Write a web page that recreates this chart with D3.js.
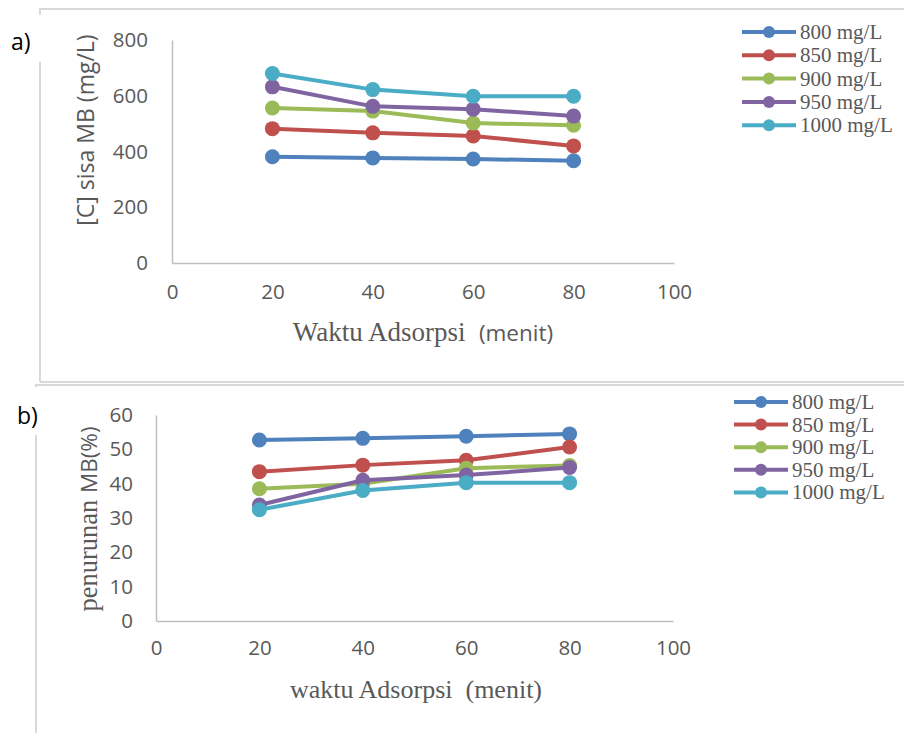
<!DOCTYPE html>
<html>
<head>
<meta charset="utf-8">
<script src="https://cdn.jsdelivr.net/npm/d3@7"></script>
<style>
  html, body { margin: 0; padding: 0; background: #fff; }
  svg { display: block; }
</style>
</head>
<body>
<svg id="chart" width="904" height="733"></svg>
<script>
// ---------- DATA ----------
const times = [20, 40, 60, 80];
const seriesNames = ["800 mg/L", "850 mg/L", "900 mg/L", "950 mg/L", "1000 mg/L"];
const seriesColors = ["#4F81BD", "#C0504D", "#9BBB59", "#8064A2", "#4BACC6"];

// a) [C] sisa MB (mg/L)
const sisa800  = [381, 377, 373, 367];
const sisa850  = [482, 467, 456, 420];
const sisa900  = [556, 545, 502, 494];
const sisa950  = [632, 562, 552, 527];
const sisa1000 = [680, 622, 598, 598];

// b) penurunan MB (%)
const turun800  = [52.7, 53.2, 53.8, 54.5];
const turun850  = [43.5, 45.4, 46.8, 50.7];
const turun900  = [38.5, 40.0, 44.5, 45.3];
const turun950  = [33.8, 41.0, 42.5, 44.7];
const turun1000 = [32.4, 38.0, 40.3, 40.3];

const xTicks = [0, 20, 40, 60, 80, 100];
const yTicksA = [0, 200, 400, 600, 800];
const yTicksB = [0, 10, 20, 30, 40, 50, 60];

// ---------- DRAW ----------
const svg = d3.select("#chart");
const SANS = "'Open Sans', 'Liberation Sans', sans-serif";
const SERIF = "'Liberation Serif', 'DejaVu Serif', serif";
const TXT = "#595959";
const FRAME = "#D9D9D9";
const AXIS = "#BFBFBF";

// Outer frames
const frames = svg.append("g").attr("stroke", FRAME).attr("stroke-width", 2).attr("fill", "none");
frames.append("path").attr("d", "M40,382 V9 H904");
frames.append("path").attr("d", "M40,382 H904");
frames.append("path").attr("d", "M36,733 V385 H904");

// Panel labels with white backing
function panelLabel(txt, x, y, bx, by, bw, bh) {
  svg.append("rect").attr("x", bx).attr("y", by).attr("width", bw).attr("height", bh).attr("fill", "#fff");
  svg.append("text").attr("x", x).attr("y", y).text(txt)
    .attr("font-family", SANS).attr("font-size", 23).attr("fill", "#000");
}
panelLabel("a)", 11, 50, 0, 15, 60, 47);
panelLabel("b)", 17, 424, 0, 387, 64, 48);

function drawPanel(cfg) {
  const g = svg.append("g");
  const x = d3.scaleLinear().domain([0, 100]).range([cfg.x0, cfg.x1]);
  const y = d3.scaleLinear().domain(cfg.yDomain).range([cfg.yBottom, cfg.yTop]);

  // axes
  const yAx = g.append("g").attr("transform", `translate(${cfg.x0},0)`)
    .call(d3.axisLeft(y).tickValues(cfg.yTicks).tickSize(0).tickPadding(cfg.yPad));
  const xAx = g.append("g").attr("transform", `translate(0,${cfg.yBottom})`)
    .call(d3.axisBottom(x).tickValues(xTicks).tickSize(0).tickPadding(cfg.xPad));
  [yAx, xAx].forEach(a => {
    a.select(".domain").attr("stroke", AXIS).attr("stroke-width", 1.5);
    a.selectAll("text").attr("font-family", SANS).attr("font-size", 20.5).attr("fill", TXT);
  });

  // lines & markers
  const line = d3.line().x((d, i) => x(times[i])).y(d => y(d));
  cfg.series.forEach((vals, si) => {
    const sg = g.append("g");
    sg.append("path").datum(vals).attr("d", line)
      .attr("fill", "none").attr("stroke", seriesColors[si]).attr("stroke-width", 4)
      .attr("stroke-linejoin", "round");
    sg.selectAll("circle").data(vals).join("circle")
      .attr("cx", (d, i) => x(times[i])).attr("cy", d => y(d)).attr("r", 7.5)
      .attr("fill", seriesColors[si]);
  });

  // legend
  const lg = g.append("g");
  seriesNames.forEach((name, i) => {
    const ly = cfg.legY + i * cfg.legStep;
    lg.append("line").attr("x1", cfg.legX).attr("x2", cfg.legX + 54).attr("y1", ly).attr("y2", ly)
      .attr("stroke", seriesColors[i]).attr("stroke-width", 4);
    lg.append("circle").attr("cx", cfg.legX + 27).attr("cy", ly).attr("r", 6).attr("fill", seriesColors[i]);
    lg.append("text").attr("x", cfg.legX + 58).attr("y", ly).attr("dy", "0.33em").text(name)
      .attr("font-family", SERIF).attr("font-size", 21).attr("fill", TXT);
  });
  return { g, x, y };
}

const pA = drawPanel({
  x0: 172, x1: 674, yTop: 40, yBottom: 263, yDomain: [0, 800], yTicks: yTicksA,
  yPad: 24, xPad: 21,
  series: [sisa800, sisa850, sisa900, sisa950, sisa1000],
  legX: 742, legY: 32, legStep: 23.3
});
const pB = drawPanel({
  x0: 156, x1: 673, yTop: 415, yBottom: 621, yDomain: [0, 60], yTicks: yTicksB,
  yPad: 23, xPad: 19,
  series: [turun800, turun850, turun900, turun950, turun1000],
  legX: 734, legY: 402, legStep: 22.6
});

// axis titles
// a) y title
svg.append("text").attr("transform", "translate(94,130) rotate(-90)")
  .attr("text-anchor", "middle").attr("font-family", SANS).attr("font-size", 23).attr("fill", TXT)
  .text("[C] sisa MB (mg/L)");
// a) x title (mixed fonts)
const tA = svg.append("text").attr("x", 423).attr("y", 341).attr("text-anchor", "middle").attr("fill", TXT);
tA.append("tspan").attr("font-family", SERIF).attr("font-size", 27).text("Waktu Adsorpsi\u00A0\u00A0");
tA.append("tspan").attr("font-family", SANS).attr("font-size", 22.5).text("(menit)");

// b) y title (mixed fonts)
const tB = svg.append("text").attr("transform", "translate(97,519) rotate(-90)")
  .attr("text-anchor", "middle").attr("fill", TXT);
tB.append("tspan").attr("font-family", SERIF).attr("font-size", 26.5).text("penurunan ");
tB.append("tspan").attr("font-family", SANS).attr("font-size", 22.5).text("MB(%)");

// b) x title
svg.append("text").attr("x", 416).attr("y", 698).attr("text-anchor", "middle")
  .attr("font-family", SERIF).attr("font-size", 26).attr("fill", TXT)
  .text("waktu Adsorpsi\u00A0\u00A0(menit)");
</script>
</body>
</html>
